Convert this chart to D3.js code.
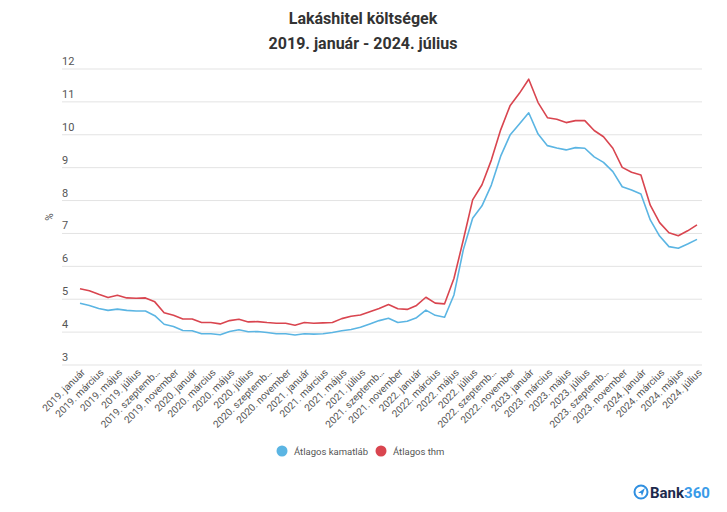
<!DOCTYPE html>
<html><head><meta charset="utf-8">
<script src="https://cdn.jsdelivr.net/npm/d3@7"></script>
<style>
html,body{margin:0;padding:0;background:#fff;}
svg{display:block;font-family:Roboto,"Noto Sans",sans-serif;}
</style></head>
<body>
<svg id="chart" width="727" height="512"></svg>
<script>
const years = [2019, 2020, 2021, 2022, 2023, 2024];
const monthNames = ["január","február","március","április","május","június","július","augusztus","szeptember","október","november","december"];
const tickLabels = [
 "2019. január","2019. március","2019. május","2019. július","2019. szeptemb…","2019. november",
 "2020. január","2020. március","2020. május","2020. július","2020. szeptemb…","2020. november",
 "2021. január","2021. március","2021. május","2021. július","2021. szeptemb…","2021. november",
 "2022. január","2022. március","2022. május","2022. július","2022. szeptemb…","2022. november",
 "2023. január","2023. március","2023. május","2023. július","2023. szeptemb…","2023. november",
 "2024. január","2024. március","2024. május","2024. július"];
const yTicks = [3,4,5,6,7,8,9,10,11,12];
const kamatlab = [4.88,4.81,4.72,4.66,4.70,4.66,4.64,4.64,4.50,4.24,
 4.17,4.05,4.04,3.95,3.95,3.92,4.02,4.07,4.01,4.02,
 3.99,3.95,3.95,3.91,3.95,3.94,3.95,3.99,4.04,4.08,
 4.15,4.25,4.35,4.42,4.29,4.33,4.44,4.67,4.51,4.45,
 5.13,6.50,7.46,7.84,8.47,9.35,9.99,10.33,10.67,10.02,
 9.67,9.60,9.54,9.61,9.59,9.33,9.16,8.88,8.42,8.32,
 8.20,7.41,6.92,6.60,6.55,6.68,6.82];
const thm = [5.32,5.26,5.15,5.05,5.12,5.04,5.03,5.04,4.92,4.59,
 4.51,4.40,4.40,4.29,4.29,4.25,4.35,4.39,4.31,4.32,
 4.29,4.27,4.27,4.21,4.29,4.27,4.28,4.29,4.41,4.48,
 4.52,4.62,4.72,4.84,4.71,4.69,4.81,5.06,4.88,4.86,
 5.63,6.80,8.02,8.48,9.23,10.15,10.88,11.26,11.69,10.98,
 10.52,10.47,10.37,10.43,10.43,10.13,9.94,9.59,9.01,8.86,
 8.78,7.86,7.33,7.02,6.93,7.08,7.26];
const seriesNames = ["Átlagos kamatláb","Átlagos thm"];
const seriesColors = ["#5bb5e3","#d9454f"];

const categories = [];
years.forEach(y => monthNames.forEach(m => { if (categories.length < kamatlab.length) categories.push(y + ". " + m); }));

const svg = d3.select("#chart");
const gridL = 62, gridR = 702;
const x = d3.scalePoint().domain(categories).range([80, 697]);
const y = d3.scaleLinear().domain([3, 12]).range([365, 69]);

// title
svg.append("text").attr("x", 363).attr("y", 24).attr("text-anchor", "middle")
  .attr("font-size", 16).attr("font-weight", "bold").attr("fill", "#333").text("Lakáshitel költségek");
svg.append("text").attr("x", 363).attr("y", 49).attr("text-anchor", "middle")
  .attr("font-size", 16).attr("font-weight", "bold").attr("fill", "#333").text("2019. január - 2024. július");

// grid
const g = svg.append("g");
g.selectAll("line.grid").data(yTicks).join("line")
  .attr("x1", gridL).attr("x2", gridR)
  .attr("y1", d => y(d)).attr("y2", d => y(d))
  .attr("stroke", "#e3e3e3").attr("stroke-width", 1);
g.selectAll("text.ytick").data(yTicks).join("text")
  .attr("x", gridL).attr("y", d => y(d) - 4)
  .attr("font-size", 11).attr("fill", "#555").text(d => d);

// y axis title
svg.append("text").attr("transform", "translate(53,217) rotate(-90)")
  .attr("text-anchor", "middle").attr("font-size", 10).attr("fill", "#555").text("%");

// x labels
const xAxis = d3.axisBottom(x)
  .tickValues(categories.filter((d, i) => i % 2 === 0))
  .tickFormat((d) => tickLabels[categories.indexOf(d) / 2])
  .tickSize(0);
const xg = svg.append("g").attr("transform", "translate(0,368)").call(xAxis);
xg.select(".domain").remove();
xg.selectAll("text")
  .attr("font-size", 10).attr("fill", "#555").attr("font-family", "Roboto, sans-serif")
  .attr("text-anchor", "end").attr("dy", 0)
  .attr("transform", "translate(3,3) rotate(-45)");

// lines
const line = d3.line().x((d, i) => x(categories[i])).y(d => y(d));
[kamatlab, thm].forEach((s, k) => {
  svg.append("path").datum(s).attr("d", line)
    .attr("fill", "none").attr("stroke", seriesColors[k]).attr("stroke-width", 1.6)
    .attr("stroke-linejoin", "round");
});

// legend
const legX = [282, 381];
seriesNames.forEach((n, k) => {
  svg.append("circle").attr("cx", legX[k]).attr("cy", 451).attr("r", 5.5).attr("fill", seriesColors[k]);
  svg.append("text").attr("x", legX[k] + 12).attr("y", 454.5).attr("font-size", 9.5).attr("fill", "#555").text(n);
});

// logo
const logo = svg.append("g").attr("transform", "translate(641,492)");
logo.append("circle").attr("r", 6.5).attr("fill", "none").attr("stroke", "#2f8fe0").attr("stroke-width", 2);
logo.append("path").attr("d", "M-3,1 L4,-4 L1,4 L0,1 Z").attr("fill", "#2f8fe0");
const lt = svg.append("text").attr("x", 650).attr("y", 498).attr("font-size", 15).attr("font-weight", "bold");
lt.append("tspan").attr("fill", "#1d2a4d").text("Bank");
lt.append("tspan").attr("fill", "#3a9be8").text("360");
</script>
</body></html>
